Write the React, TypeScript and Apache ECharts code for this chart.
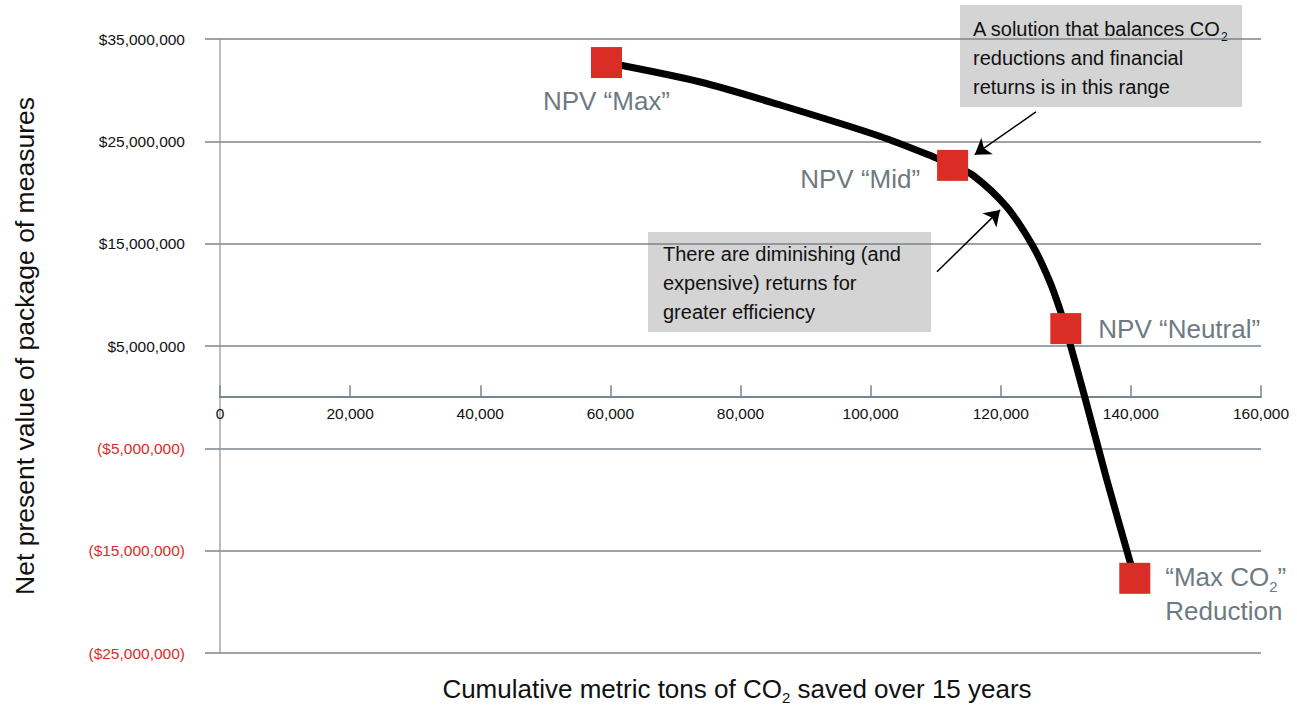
import React, { useEffect, useRef } from "react";
import * as echarts from "echarts";

const FONT = '"Liberation Sans Narrow", "Arial Narrow", "Liberation Sans", Arial, sans-serif';

// Curve (x: metric tons of CO2, y: NPV in $)
const curveX = [59400, 73800, 86100, 101400, 109600, 112600, 115700, 120900, 125000, 127600, 129100, 130000, 132900, 136300, 140600];
const curveY = [32.7e6, 30.8e6, 28.55e6, 25.5e6, 23.5e6, 22.65e6, 21.7e6, 18.6e6, 14.7e6, 11.2e6, 8.55e6, 6.7e6, 0.04e6, -8.07e6, -17.7e6];

// Highlighted solutions
const pointNames = ["NPV “Max”", "NPV “Mid”", "NPV “Neutral”", "“Max CO{s|2}”\nReduction"];
const pointX = [59400, 112600, 130000, 140600];
const pointY = [32.7e6, 22.65e6, 6.7e6, -17.7e6];

// Axis ranges
const xMin = 0;
const xMax = 160000;
const xStep = 20000;
const yMin = -25e6;
const yMax = 35e6;
const yStep = 10e6;

// Annotation arrows (data coordinates): [fromX, fromY, toX, toY]
const arrow1 = [125400, 27.87e6, 116000, 23.7e6];
const arrow2 = [110200, 12.25e6, 119900, 18.3e6];

const note1 = "A solution that balances CO{s|2}\nreductions and financial\nreturns is in this range";
const note2 = "There are diminishing (and\nexpensive) returns for\ngreater efficiency";
const xTitle = "Cumulative metric tons of CO{s|2} saved over 15 years";
const yTitle = "Net present value of package of measures";

const GRID = "#7b858c";
const LABEL_GRAY = "#6e7a82";
const RED = "#d92d26";

const W = 1297;
const H = 706;
const G_LEFT = 220;
const G_RIGHT = 36;
const G_TOP = 39;
const G_BOTTOM = 53;

export default function App() {
  const ref = useRef<HTMLDivElement>(null);
  useEffect(() => {
    document.body.style.margin = "0";
    if (!ref.current) return;
    const chart = echarts.init(ref.current, undefined, { renderer: "svg" });

    const gridH = H - G_TOP - G_BOTTOM;
    // move the x axis (line, ticks and labels) up to the y = 0 level
    const zeroOffset = -gridH * (0 - yMin) / (yMax - yMin);

    const labelLayouts: any[] = [
      { position: "bottom", distance: 10 },
      { position: "left", distance: 17, offset: [0, 14] },
      { position: "right", distance: 17 },
      { position: "right", distance: 15, offset: [0, 16], align: "left", lineHeight: 34 },
    ];

    const scatterData = pointX.map((x, i) => ({
      value: [x, pointY[i]],
      label: {
        show: true,
        formatter: pointNames[i],
        fontFamily: FONT,
        fontSize: 26,
        color: LABEL_GRAY,
        rich: {
          s: { fontSize: 15, fontFamily: FONT, color: LABEL_GRAY, verticalAlign: "bottom", lineHeight: 20 },
        },
        ...labelLayouts[i],
      },
    }));

    const fmtMoney = (v: number) => {
      const s = Math.abs(v).toLocaleString("en-US");
      return v < 0 ? "($" + s + ")" : "$" + s;
    };

    const option: any = {
      animation: false,
      textStyle: { fontFamily: FONT },
      grid: { left: G_LEFT, right: G_RIGHT, top: G_TOP, bottom: G_BOTTOM, containLabel: false },
      xAxis: {
        type: "value",
        min: xMin,
        max: xMax,
        interval: xStep,
        position: "bottom",
        offset: zeroOffset,
        axisLine: { show: true, onZero: false, lineStyle: { color: GRID, width: 2 } },
        axisTick: { show: true, inside: true, length: 12, lineStyle: { color: GRID, width: 1.5 } },
        axisLabel: {
          fontFamily: FONT,
          fontSize: 15.5,
          color: "#111",
          margin: 8,
          formatter: (v: number) => v.toLocaleString("en-US"),
        },
        splitLine: { show: false },
      },
      yAxis: {
        type: "value",
        min: yMin,
        max: yMax,
        interval: yStep,
        name: yTitle,
        nameLocation: "middle",
        nameGap: 182,
        nameTextStyle: { fontFamily: FONT, fontSize: 26.5, color: "#111" },
        axisLine: { show: true, lineStyle: { color: "#a3a9ad", width: 1.5 } },
        axisTick: { show: true, inside: false, length: 15, lineStyle: { color: GRID, width: 1.5 } },
        axisLabel: {
          fontFamily: FONT,
          fontSize: 15.5,
          margin: 35,
          color: (v: any) => (Number(v) < 0 ? RED : "#111"),
          formatter: fmtMoney,
        },
        splitLine: { show: true, lineStyle: { color: GRID, width: 1.5 } },
      },
      series: [
        {
          type: "line",
          data: curveX.map((x, i) => [x, curveY[i]]),
          smooth: 0.3,
          showSymbol: false,
          symbol: "none",
          lineStyle: { color: "#000", width: 7, cap: "butt" },
          z: 2,
          silent: true,
          markLine: {
            silent: true,
            symbol: ["none", "arrow"],
            symbolSize: 15,
            label: { show: false },
            lineStyle: { color: "#000", width: 1.5, type: "solid" },
            itemStyle: { color: "#000" },
            emphasis: { disabled: true },
            data: [
              [{ coord: [arrow1[0], arrow1[1]] }, { coord: [arrow1[2], arrow1[3]] }],
              [{ coord: [arrow2[0], arrow2[1]] }, { coord: [arrow2[2], arrow2[3]] }],
            ],
          },
        },
        {
          type: "scatter",
          data: scatterData,
          symbol: "rect",
          symbolSize: 31,
          itemStyle: { color: RED, opacity: 1 },
          z: 5,
          silent: true,
        },
      ],
      graphic: [
        {
          type: "group",
          left: 960,
          top: 5,
          children: [
            { type: "rect", shape: { x: 0, y: 0, width: 282, height: 102 }, style: { fill: "#d4d4d4" } },
            {
              type: "text",
              x: 13,
              y: 9,
              style: {
                text: note1,
                fontFamily: FONT,
                fontSize: 20,
                lineHeight: 29,
                fill: "#111",
                rich: {
                  s: { fontSize: 12, fontFamily: FONT, fill: "#111", verticalAlign: "bottom", lineHeight: 20 },
                },
              },
            },
          ],
        },
        {
          type: "group",
          left: 648,
          top: 232,
          children: [
            { type: "rect", shape: { x: 0, y: 0, width: 283, height: 100 }, style: { fill: "#d4d4d4" } },
            {
              type: "text",
              x: 15,
              y: 7,
              style: { text: note2, fontFamily: FONT, fontSize: 20, lineHeight: 29, fill: "#111" },
            },
          ],
        },
        {
          type: "text",
          x: 737,
          y: 689,
          style: {
            text: xTitle,
            align: "center",
            verticalAlign: "middle",
            fontFamily: FONT,
            fontSize: 26,
            lineHeight: 32,
            fill: "#111",
            rich: {
              s: { fontSize: 15, fontFamily: FONT, fill: "#111", verticalAlign: "bottom", lineHeight: 22 },
            },
          },
        },
      ],
    };
    chart.setOption(option);
    return () => chart.dispose();
  }, []);
  return <div ref={ref} style={{ width: W, height: H }} />;
}
